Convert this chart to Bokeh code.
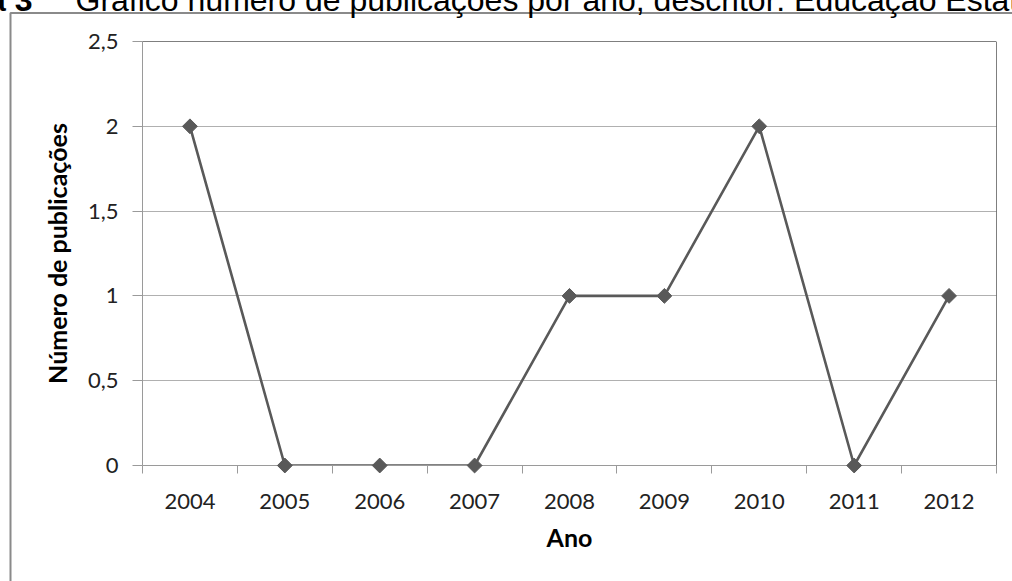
import math

from bokeh.core.properties import value
from bokeh.embed import file_html
from bokeh.models import ColumnDataSource, FixedTicker, Range1d, Span
from bokeh.plotting import figure
from bokeh.resources import INLINE

# Publications per year for the descriptor "Educação Estatística"
years = ["2004", "2005", "2006", "2007", "2008", "2009", "2010", "2011", "2012"]
publications = [2, 0, 0, 0, 1, 1, 2, 0, 1]

y_ticks = [0, 0.5, 1, 1.5, 2, 2.5]
y_tick_labels = ["0", "0,5", "1", "1,5", "2", "2,5"]

x_title = "Ano"
y_title = "Número de publicações"
caption_number = "Figura 3"
caption_text = "Gráfico número de publicações por ano, descritor: Educação Estatística"

# ---- layout (pixels) ----
W, H = 1012, 581
FRAME_L, FRAME_R = 142, 996        # plot area, left/right edges
FRAME_T, FRAME_B = 41, 465         # plot area, top/bottom edges
Y_MAX = y_ticks[-1]

px_per_x = (FRAME_R - FRAME_L) / len(years)
px_per_y = (FRAME_B - FRAME_T) / Y_MAX


def data_x(px):
    """Canvas pixel column -> x data coordinate."""
    return (px - FRAME_L) / px_per_x


def data_y(py):
    """Canvas pixel row -> y data coordinate."""
    return (FRAME_B - py) / px_per_y


axis_gray = "#9a9a9a"
grid_gray = "#b0b0b0"
series_gray = "#595959"
tick_font = "Lato"

p = figure(
    width=W, height=H,
    output_backend="svg", toolbar_location=None,
    x_range=Range1d(0, len(years)), y_range=Range1d(0, Y_MAX),
    min_border_left=FRAME_L, min_border_right=W - FRAME_R,
    min_border_top=FRAME_T, min_border_bottom=H - FRAME_B,
    background_fill_color="white", border_fill_color="white",
)
p.outline_line_color = None

# ---- category axis: labels in the middle of each slot, ticks between slots ----
centers = [i + 0.5 for i in range(len(years))]
edges = list(range(len(years) + 1))
xax = p.xaxis[0]
xax.ticker = FixedTicker(ticks=centers, minor_ticks=edges)
xax.major_label_overrides = dict(zip(centers, years))
xax.axis_line_color = axis_gray
xax.major_tick_line_color = None
xax.major_tick_out = 0
xax.major_tick_in = 0
xax.minor_tick_line_color = axis_gray
xax.minor_tick_out = 8
xax.minor_tick_in = 0
xax.major_label_standoff = 20
xax.major_label_text_font = tick_font
xax.major_label_text_font_size = "22px"
xax.major_label_text_color = "#222222"
xax.axis_label = x_title
xax.axis_label_text_font = tick_font
xax.axis_label_text_font_size = "25px"
xax.axis_label_text_font_style = "bold"
xax.axis_label_text_color = "black"
xax.axis_label_standoff = 10

# ---- value axis ----
yax = p.yaxis[0]
yax.ticker = FixedTicker(ticks=y_ticks, minor_ticks=[])
yax.major_label_overrides = dict(zip(y_ticks, y_tick_labels))
yax.axis_line_color = axis_gray
yax.major_tick_line_color = axis_gray
yax.major_tick_out = 10
yax.major_tick_in = 0
yax.minor_tick_line_color = None
yax.major_label_standoff = 14
yax.major_label_text_font = tick_font
yax.major_label_text_font_size = "22px"
yax.major_label_text_color = "#222222"
yax.axis_label = y_title
yax.axis_label_text_font = tick_font
yax.axis_label_text_font_size = "25px"
yax.axis_label_text_font_style = "bold"
yax.axis_label_text_color = "black"
yax.axis_label_standoff = 13

p.xgrid.visible = False
p.ygrid.ticker = FixedTicker(ticks=y_ticks, minor_ticks=[])
p.ygrid.grid_line_color = grid_gray

# dark edge along the top and right of the plot area
p.add_layout(Span(location=Y_MAX, dimension="width", line_color="black", line_width=1))
p.add_layout(Span(location=len(years), dimension="height", line_color="black", line_width=1))

# ---- series (markers above the frame clip so the ones on zero stay whole) ----
src = ColumnDataSource(dict(x=centers, y=publications, year=years))
p.line("x", "y", source=src, line_color=series_gray, line_width=2.6)
p.scatter("x", "y", source=src, marker="square", size=10.5, angle=math.pi / 4,
          fill_color=series_gray, line_color=series_gray, level="overlay")

# ---- surrounding chart box: left and top edges, running off the page ----
p.line(x=[data_x(10), data_x(10), data_x(W + 100)],
       y=[data_y(H + 100), data_y(12.5), data_y(12.5)],
       line_color="#8a8a8a", line_width=2, level="overlay")

# ---- figure caption along the top edge (only its lower part fits on the page) ----
CAPTION_Y = -0.5
p.text(x=[data_x(32)], y=[data_y(CAPTION_Y)], text=[caption_number],
       text_font=value("Liberation Sans"), text_font_size=value("32px"),
       text_font_style="bold", text_align="right", text_baseline="alphabetic",
       text_color="black", level="overlay")
p.text(x=[data_x(75)], y=[data_y(CAPTION_Y)], text=[caption_text],
       text_font=value("Liberation Sans"), text_font_size=value("32px"),
       text_align="left", text_baseline="alphabetic",
       text_color="black", level="overlay")

open("out.html", "w").write(file_html(p, INLINE))
